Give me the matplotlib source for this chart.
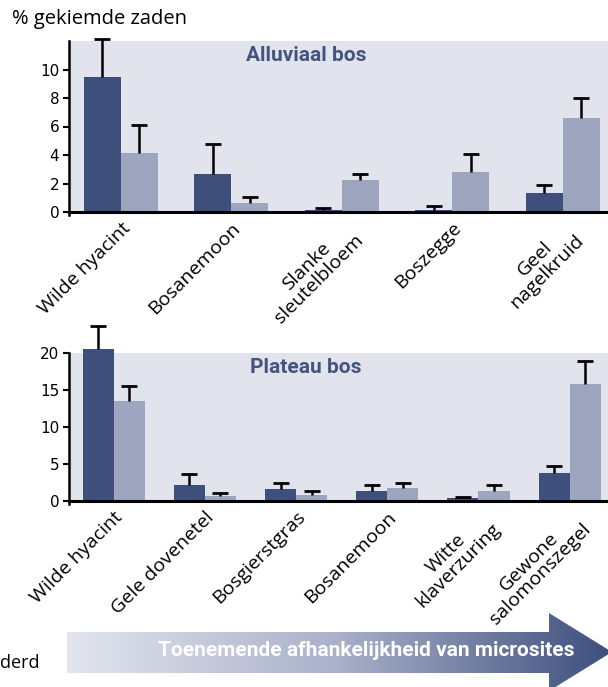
import numpy as np
import matplotlib
matplotlib.use('Agg')
import matplotlib.pyplot as plt
from matplotlib.patches import Polygon

# ---- DATA ----
top_species = ['Wilde hyacint', 'Bosanemoon', 'Slanke\nsleutelbloem', 'Boszegge', 'Geel\nnagelkruid']
top_dark = [9.5, 2.65, 0.14, 0.14, 1.33]
top_dark_err = [2.65, 2.1, 0.14, 0.28, 0.55]
top_light = [4.13, 0.63, 2.24, 2.8, 6.57]
top_light_err = [2.0, 0.4, 0.42, 1.25, 1.4]

bot_species = ['Wilde hyacint', 'Gele dovenetel', 'Bosgierstgras', 'Bosanemoon',
               'Witte\nklaverzuring', 'Gewone\nsalomonszegel']
bot_dark = [20.5, 2.2, 1.6, 1.35, 0.35, 3.8]
bot_dark_err = [3.1, 1.45, 0.8, 0.85, 0.25, 0.9]
bot_light = [13.5, 0.7, 0.8, 1.75, 1.35, 15.8]
bot_light_err = [2.0, 0.4, 0.5, 0.75, 0.85, 3.1]

top_ticks = [0, 2, 4, 6, 8, 10]
bot_ticks = [0, 5, 10, 15, 20]

DARK = '#3e4f7c'
LIGHT = '#9ea6bf'
BG = '#e1e4ec'
TITLE_C = '#44537f'

W, H = 608, 687
fig = plt.figure(figsize=(W / 100, H / 100), dpi=100)

BOLD_FONT = 'Roboto'
LABEL_FONT = 'Open Sans'


def fbox(x0, y0, x1, y1):
    # pixel box (top-left origin) -> figure fraction
    return [x0 / W, 1 - y1 / H, (x1 - x0) / W, (y1 - y0) / H]


def panel(ax, species, dark, dark_err, light, light_err, ymax, ticks, xlim, width, title, title_y):
    x = np.arange(len(species))
    ax.set_facecolor(BG)
    ax.bar(x - width / 2, dark, width, color=DARK, clip_on=False, zorder=2)
    ax.bar(x + width / 2, light, width, color=LIGHT, clip_on=False, zorder=2)
    for offs, vals, errs in [(-width / 2, dark, dark_err), (width / 2, light, light_err)]:
        vals = np.array(vals)
        tops = vals + np.array(errs)
        ax.vlines(x + offs, vals, tops, color='black', lw=1.8, clip_on=False, zorder=3)
        ax.plot(x + offs, tops, ls='none', marker='_', ms=12, mew=2.0, color='black',
                clip_on=False, zorder=3)
    ax.set_xlim(*xlim)
    ax.set_ylim(0, ymax)
    ax.set_yticks(ticks)
    ax.set_yticklabels([str(t) for t in ticks], fontsize=11)
    ax.tick_params(axis='y', length=4, width=1.5, pad=3)
    ax.set_xticks(x)
    ax.set_xticklabels(species, rotation=45, ha='right', rotation_mode='anchor',
                       fontsize=14, family=LABEL_FONT, multialignment='center',
                       linespacing=0.95)
    ax.tick_params(axis='x', length=0, pad=5)
    for s in ['top', 'right']:
        ax.spines[s].set_visible(False)
    ax.spines['left'].set_linewidth(1.8)
    ax.spines['bottom'].set_linewidth(2.2)
    ax.spines['bottom'].set_zorder(4)
    ax.spines['left'].set_bounds(-ymax * 0.02, ymax)
    ax.text(0.44, title_y, title, transform=ax.transAxes, ha='center', va='center',
            fontsize=15, fontweight='bold', color=TITLE_C, family=BOLD_FONT)


ax1 = fig.add_axes(fbox(69, 41, 608, 212))
panel(ax1, top_species, top_dark, top_dark_err, top_light, top_light_err,
      12, top_ticks, (-0.47, 4.41), 0.335, 'Alluviaal bos', 0.915)

ax2 = fig.add_axes(fbox(69, 353, 608, 501))
panel(ax2, bot_species, bot_dark, bot_dark_err, bot_light, bot_light_err,
      20, bot_ticks, (-0.49, 5.42), 0.34, 'Plateau bos', 0.9)

fig.text(12 / W, 1 - 19 / H, '% gekiemde zaden', fontsize=14.5, family=LABEL_FONT,
         ha='left', va='center')
fig.text(0, 1 - 663 / H, 'derd', fontsize=13, family=LABEL_FONT, ha='left', va='center')

# gradient arrow
axa = fig.add_axes([0, 0, 1, 1], zorder=-1)
axa.set_xlim(0, W)
axa.set_ylim(H, 0)
axa.axis('off')
pts = [(67, 632), (549, 632), (549, 613), (612, 652), (549, 691), (549, 673), (67, 673)]
poly = Polygon(pts, closed=True, facecolor='none', edgecolor='none')
axa.add_patch(poly)
grad = np.linspace(0, 1, 256).reshape(1, -1)
cmap = matplotlib.colors.LinearSegmentedColormap.from_list('g', ['#e2e5ee', '#a9b0c8', '#3d4e7c'])
im = axa.imshow(grad, cmap=cmap, extent=(67, 612, 691, 613), aspect='auto')
im.set_clip_path(poly)
axa.text(366, 650, 'Toenemende afhankelijkheid van microsites', color='white',
         fontsize=15, fontweight='bold', family=BOLD_FONT, ha='center', va='center')

fig.savefig('out.png', dpi=100)
